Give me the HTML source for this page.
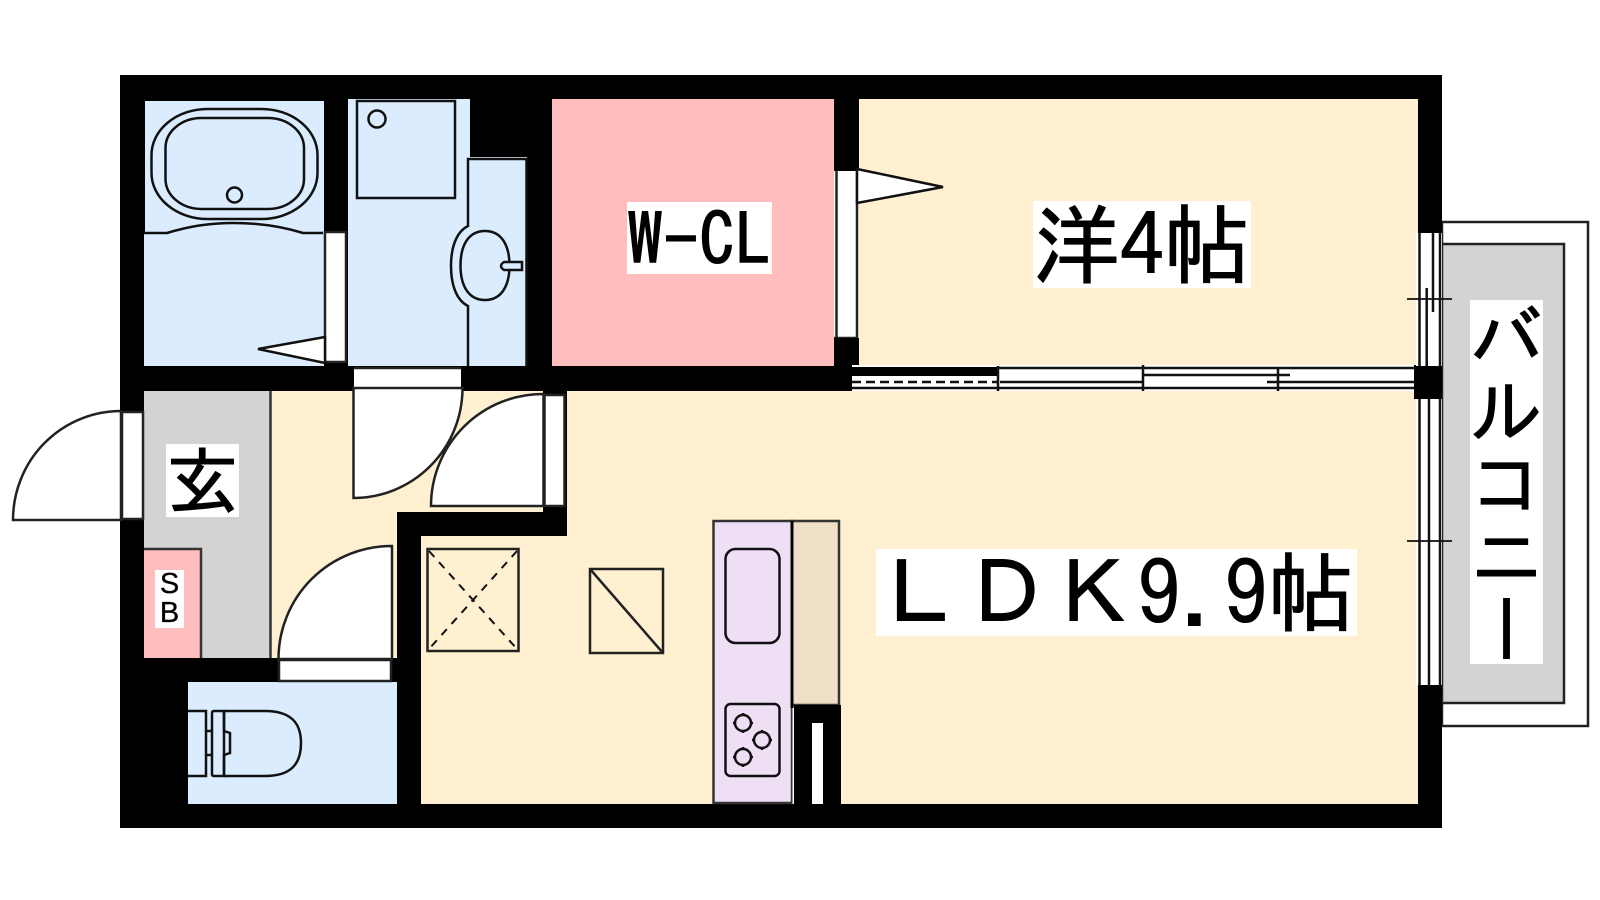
<!DOCTYPE html>
<html lang="ja"><head><meta charset="utf-8"><title>間取り図</title>
<style>
html,body{margin:0;padding:0;background:#fff;width:1600px;height:900px;overflow:hidden}
svg{display:block;position:absolute;left:0;top:0}
.l{position:absolute;background:#fff;color:#000;font-family:"IPAGothic","Noto Sans CJK JP",sans-serif;white-space:pre;line-height:1;text-align:left;-webkit-text-stroke:1px #000}
</style></head><body>
<svg width="1600" height="900" viewBox="0 0 1600 900" xmlns="http://www.w3.org/2000/svg">
<g fill="none" stroke="#222" stroke-width="2.500">
<rect x="1442" y="222" width="146" height="504" fill="#fff"/>
<rect x="1442" y="244" width="122" height="459" fill="#d3d3d3"/>
</g>
<rect x="120" y="75" width="1322" height="753" fill="#000"/>
<!-- rooms -->
<rect x="145" y="101" width="179" height="132" fill="#dbecff"/>
<rect x="144" y="233" width="180" height="133" fill="#dbecff"/>
<path d="M348 99H470V157H527V366H348Z" fill="#dbecff"/>
<rect x="552" y="99" width="282" height="267" fill="#ffbdbd"/>
<rect x="859" y="99" width="559" height="266" fill="#fef0d0"/>
<path d="M567 391H1418V804H421V536H567Z" fill="#fef0d0"/>
<path d="M270 391H543V512H397V658H270Z" fill="#fef0d0"/>
<rect x="144" y="391" width="126" height="267" fill="#d3d3d3"/>
<path d="M270.500 391V658" stroke="#333" stroke-width="2.500"/>
<rect x="144" y="549" width="57" height="109" fill="#ffbdbd"/>
<path d="M144 549H201V658" fill="none" stroke="#333" stroke-width="2.500"/>
<rect x="188" y="682" width="209" height="122" fill="#dbecff"/>
<!-- bath -->
<g fill="none" stroke="#111" stroke-width="2.500">
<rect x="151.500" y="109" width="166" height="110" rx="56" ry="46"/>
<rect x="165.500" y="118" width="138.500" height="91" rx="36" ry="30"/>
<circle cx="234.500" cy="195" r="7.500"/>
<path d="M144 233H167C190 226 210 223 234 223C258 223 280 226 303 233H323"/>
</g>
<rect x="325" y="232" width="21" height="130" fill="#fff" stroke="#222" stroke-width="2.500"/>
<path d="M325 337L258 349L325 363Z" fill="#fff" stroke="#111" stroke-width="2.500"/>
<!-- washroom -->
<g fill="none" stroke="#111" stroke-width="2.500">
<rect x="357" y="101" width="98" height="97"/>
<circle cx="377" cy="119" r="8.500"/>
<path d="M526.500 366V159H468V226C456 232 451 248 451 266C451 284 456 300 468 306V366"/>
<path d="M485 231C502 231 509.500 246 509.500 265.500C509.500 285 502 300 485 300C468 300 460.500 285 460.500 265.500C460.500 246 468 231 485 231Z"/>
<path d="M504 262H522V270H504Q501 268 501 266Q501 264 504 262Z" fill="#dbecff"/>
</g>
<!-- WCL door -->
<rect x="834" y="171" width="25" height="167" fill="#fff"/>
<path d="M836.500 171V338M857 171V338M834 338H857" stroke="#222" stroke-width="2.500" fill="none"/>
<rect x="834" y="338" width="25" height="28" fill="#000"/>
<path d="M857 169L943 187L857 203Z" fill="#fff" stroke="#111" stroke-width="2.500"/>
<!-- sliding door -->
<rect x="852" y="365" width="562" height="26" fill="#fff"/>
<rect x="852" y="367" width="146" height="9" fill="#000"/>
<path d="M852 382H998" stroke="#111" stroke-width="2.500" stroke-dasharray="9 5"/>
<g stroke="#111" stroke-width="2.500" fill="none">
<path d="M852 388H1414M998 368H1414M1000 382H1143M1143 375H1290M1267 382H1414"/>
<path d="M998 366V391M1143 365V391M1278 367V391"/>
</g>
<rect x="1414" y="366" width="28" height="33" fill="#000"/>
<!-- right windows -->
<rect x="1416" y="233" width="26" height="133" fill="#fff"/>
<rect x="1416" y="399" width="26" height="286" fill="#fff"/>
<g stroke="#111" stroke-width="2.500" fill="none">
<path d="M1419.500 233V366M1426.700 288V366M1433 233V312M1440 233V366"/>
<path d="M1419.500 399V685M1429 399V685M1440 399V685"/>
<path d="M1407 299H1452M1407 541H1452" stroke-width="1.800"/>
</g>
<!-- doors -->
<g stroke="#222" stroke-width="2.500" fill="#fff">
<rect x="354" y="368" width="107" height="20" stroke="none"/>
<path d="M354 368H461"/>
<path d="M353.500 388H462.500A109 110 0 0 1 353.500 498Z"/>
<rect x="544.500" y="395" width="20" height="111"/>
<path d="M543.500 394V506H431A112 112 0 0 1 543.500 394Z"/>
<rect x="279" y="660" width="112" height="21"/>
<path d="M392 546V659H278.500A113 113 0 0 1 392 546Z"/>
<rect x="122" y="412" width="21" height="107"/>
<path d="M121 411V520H13A108 109 0 0 1 121 411Z"/>
</g>
<!-- toilet -->
<g fill="none" stroke="#111" stroke-width="2.500">
<path d="M188 711H206V776H188M206 731H212M206 755H212"/>
<path d="M214 711H224V776H214Q212 776 212 774V713Q212 711 214 711Z"/>
<path d="M224 711H265C290 711 301 722 301 743C301 765 290 776 265 776H224M224 711V731L230 733V753L224 755V776"/>
</g>
<!-- vent -->
<rect x="427.500" y="549" width="91" height="102" fill="none" stroke="#222" stroke-width="2.500"/>
<path d="M429 551L517 649M517 551L429 649" stroke="#111" stroke-width="2" stroke-dasharray="8 7" fill="none"/>
<!-- fridge -->
<g fill="none" stroke="#222" stroke-width="2.500">
<rect x="590" y="569" width="73" height="84"/>
<path d="M590 569L663 653"/>
</g>
<!-- kitchen -->
<rect x="792" y="521" width="47" height="184" fill="#efdfc4" stroke="#333" stroke-width="2.500"/>
<rect x="713.500" y="521" width="78.500" height="282" fill="#eedff5" stroke="#333" stroke-width="2.500"/>
<path d="M792 521V708" stroke="#000" stroke-width="3"/>
<rect x="792.500" y="708" width="2" height="96" fill="#fff"/>
<rect x="794" y="705" width="47" height="99" fill="#000"/>
<rect x="812" y="723" width="11" height="81" fill="#fff"/>
<g fill="none" stroke="#111" stroke-width="2.500">
<rect x="725.500" y="549" width="54" height="94" rx="10"/>
<rect x="725.500" y="704" width="54" height="72" rx="5"/>
<circle cx="743" cy="723" r="8"/><circle cx="762" cy="740" r="8"/><circle cx="743" cy="757" r="8"/>
<path d="M743 713v3M743 730v3M733 723h3M750 723h3M762 730v3M762 747v3M752 740h3M769 740h3M743 747v3M743 764v3M733 757h3M750 757h3"/>
</g>
</svg>
<div class="l" style="left:627px;top:202px;width:145px;height:72px;font-size:72px;line-height:75px">W-CL</div>
<div class="l" style="left:1033px;top:201px;width:218px;height:87px;font-size:87px">洋4帖</div>
<div class="l" style="left:876px;top:549px;width:481px;height:87px;font-size:87px">ＬＤＫ9.9帖</div>
<div class="l" style="left:166px;top:444px;width:73px;height:73px;font-size:73px">玄</div>
<div class="l" style="left:155px;top:570px;width:29px;height:58px;font-size:29px;line-height:29px;font-family:'Liberation Sans',sans-serif;text-align:center;-webkit-text-stroke:0.3px #000">S
B</div>
<div class="l" style="left:1470px;top:300px;width:73px;height:364px;font-size:73px;writing-mode:vertical-rl">バルコニー</div>
</body></html>
